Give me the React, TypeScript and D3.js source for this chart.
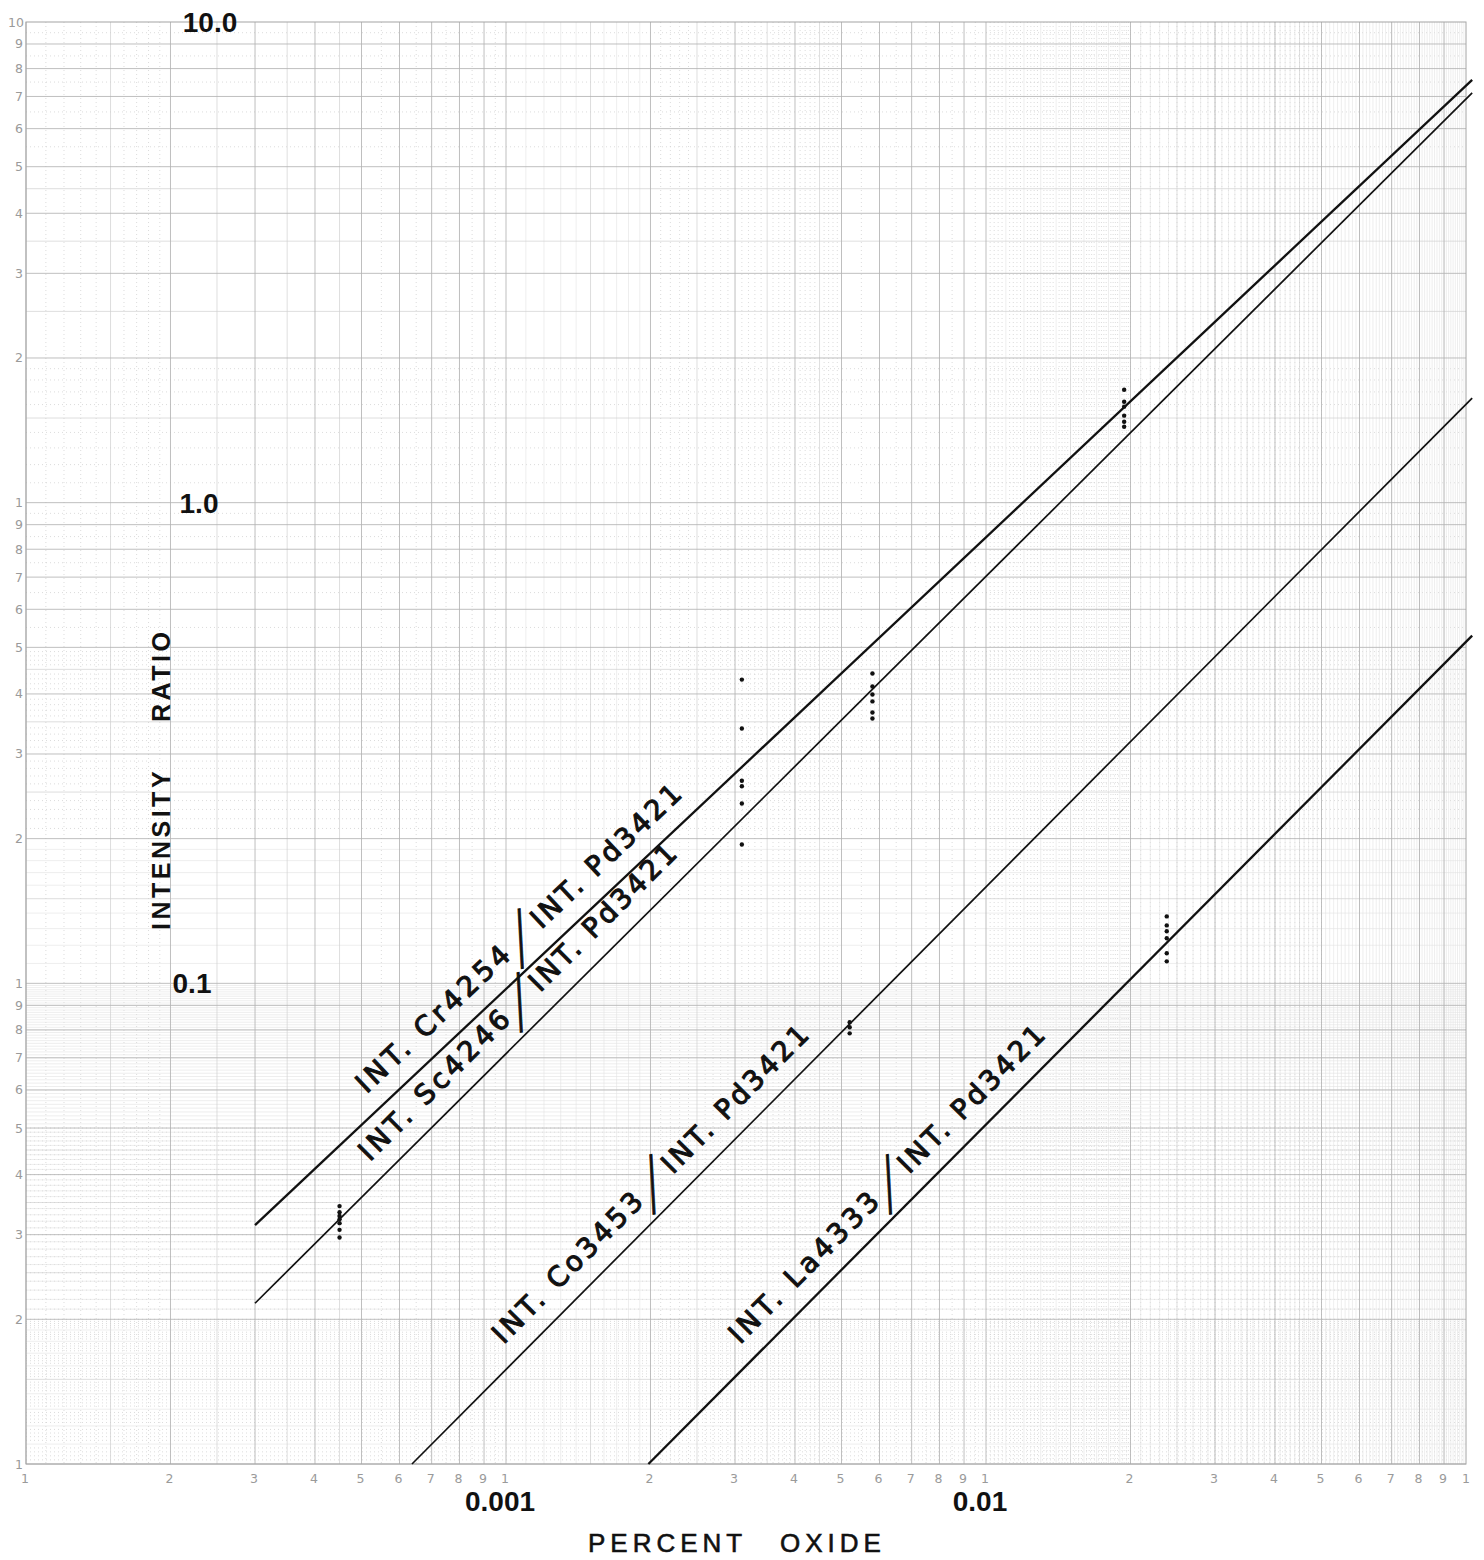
import React from "react";
import * as d3 from "d3";

// ---- data -------------------------------------------------------------
// Calibration lines (percent oxide -> intensity ratio), as drawn end to end.
const lineNames = ["Cr4254", "Sc4246", "Co3453", "La4333"];
const lineStartOxide = [0.0003, 0.0003, 0.000637, 0.00198];
const lineStartRatio = [0.0314, 0.0216, 0.01, 0.01];
const lineEndOxide = [0.103, 0.103, 0.103, 0.103];
const lineEndRatio = [7.58, 7.12, 1.65, 0.529];

// Measured points: one oxide level per group, several exposures each.
const pointOxide = [0.00045, 0.0031, 0.0052, 0.0058, 0.0194, 0.0238];
const ratiosAt00045 = [0.0344, 0.0334, 0.0328, 0.0323, 0.0317, 0.0307, 0.0296];
const ratiosAt0031 = [0.4285, 0.339, 0.264, 0.257, 0.2366, 0.1945];
const ratiosAt0052 = [0.083, 0.081, 0.0787];
const ratiosAt0058 = [0.441, 0.4145, 0.399, 0.386, 0.366, 0.3556];
const ratiosAt0194 = [1.718, 1.622, 1.584, 1.517, 1.473, 1.439];
const ratiosAt0238 = [0.1378, 0.132, 0.1283, 0.1241, 0.1155, 0.1111];
const pointRatios = [ratiosAt00045, ratiosAt0031, ratiosAt0052, ratiosAt0058, ratiosAt0194, ratiosAt0238];

// Where each line's lettering begins (percent oxide along the line).
const labelStartOxide = [0.000545, 0.000555, 0.001054, 0.003276];

// Axis wording
const yDecadeLabels = ["10.0", "1.0", "0.1"];
const yDecadeValues = [10, 1, 0.1];
const xDecadeLabels = ["0.001", "0.01"];
const xDecadeValues = [0.001, 0.01];
const cycleDigits = ["1", "2", "3", "4", "5", "6", "7", "8", "9"];

// ---- layout -----------------------------------------------------------
const W = 1484;
const H = 1560;
const x = d3.scaleLog().domain([1e-4, 0.1]).range([26, 1466]);
const y = d3.scaleLog().domain([0.01, 10]).range([1464, 22]);

type Density = "sparse" | "medium" | "dense";
const steps = (a: number, b: number, step: number) =>
  d3.range(Math.round(a / step), Math.round(b / step) + 1).map((i) => +(i * step).toFixed(4));

const isMult = (v: number, s: number) => Math.abs(v / s - Math.round(v / s)) < 1e-6;

function mantissas(d: Density) {
  const major = steps(1, 9, 1);
  const mid = [1.5, 2.5, 3.5, 4.5];
  let minor: number[] = [];
  let dotted: number[] = [];
  if (d === "sparse") {
    dotted = steps(1.1, 1.9, 0.1).filter((v) => !isMult(v, 0.5)).concat([5.5, 6.5, 7.5, 8.5, 9.5]);
  } else if (d === "medium") {
    minor = steps(1.1, 1.9, 0.1).filter((v) => !isMult(v, 0.5));
    dotted = steps(2.1, 4.9, 0.1).filter((v) => !isMult(v, 0.5)).concat([5.5, 6.5, 7.5, 8.5, 9.5]);
  } else {
    minor = steps(1.1, 9.9, 0.1).filter((v) => !isMult(v, 0.5) || v > 5);
    dotted = steps(1.02, 1.98, 0.02)
      .filter((v) => !isMult(v, 0.1))
      .concat(steps(2.05, 4.95, 0.1));
  }
  return { major, mid, minor, dotted };
}

const gridStyles: Record<string, { stroke: string; width: number; dash?: string }> = {
  dotted: { stroke: "#cdcdcd", width: 0.7, dash: "1 3" },
  minor: { stroke: "#e3e3e3", width: 0.6 },
  mid: { stroke: "#d0d0d0", width: 0.7 },
  major: { stroke: "#b4b4b4", width: 0.85 },
};
const gridOrder = ["dotted", "minor", "mid", "major"];

const xCycles: { base: number; density: Density }[] = [
  { base: 1e-4, density: "sparse" },
  { base: 1e-3, density: "medium" },
  { base: 1e-2, density: "dense" },
];
const yCycles: { base: number; density: Density }[] = [
  { base: 1e-2, density: "dense" },
  { base: 1e-1, density: "medium" },
  { base: 1, density: "sparse" },
];

function Grid() {
  const [x0, x1] = x.range();
  const [y0, y1] = y.range();
  const out: React.ReactNode[] = [];
  gridOrder.forEach((level) => {
    const st = gridStyles[level];
    xCycles.forEach((c, ci) => {
      const m = (mantissas(c.density) as any)[level] as number[];
      m.forEach((v) => {
        const px = x(v * c.base);
        out.push(
          <line key={`vx-${level}-${ci}-${v}`} x1={px} x2={px} y1={y1} y2={y0}
            stroke={st.stroke} strokeWidth={st.width} strokeDasharray={st.dash} />
        );
      });
    });
    yCycles.forEach((c, ci) => {
      const m = (mantissas(c.density) as any)[level] as number[];
      m.forEach((v) => {
        const py = y(v * c.base);
        out.push(
          <line key={`hy-${level}-${ci}-${v}`} x1={x0} x2={x1} y1={py} y2={py}
            stroke={st.stroke} strokeWidth={st.width} strokeDasharray={st.dash} />
        );
      });
    });
  });
  return (
    <g>
      {out}
      <rect x={x0} y={y1} width={x1 - x0} height={y0 - y1} fill="none" stroke="#a4a4a4" strokeWidth={1} />
    </g>
  );
}

function CycleLabels() {
  const gray = "#9a9a9a";
  const font = "DejaVu Sans";
  const nodes: React.ReactNode[] = [];
  yCycles.forEach((c, ci) => {
    cycleDigits.forEach((t, i) => {
      const v = (i + 1) * c.base;
      nodes.push(
        <text key={`yl-${ci}-${i}`} x={23} y={y(v) + 4.5} textAnchor="end" fontSize={12.5} fill={gray} fontFamily={font}>
          {t}
        </text>
      );
    });
  });
  nodes.push(
    <text key="yl-top" x={24} y={y(10) + 4.5} textAnchor="end" fontSize={12.5} fill={gray} fontFamily={font}>
      10
    </text>
  );
  xCycles.forEach((c, ci) => {
    cycleDigits.forEach((t, i) => {
      const v = (i + 1) * c.base;
      nodes.push(
        <text key={`xl-${ci}-${i}`} x={x(v) - 1} y={1483} textAnchor="middle" fontSize={12.5} fill={gray} fontFamily={font}>
          {t}
        </text>
      );
    });
  });
  nodes.push(
    <text key="xl-end" x={x(0.1)} y={1483} textAnchor="middle" fontSize={12.5} fill={gray} fontFamily={font}>
      1
    </text>
  );
  return <g>{nodes}</g>;
}

function CalibrationLines() {
  return (
    <g>
      {lineNames.map((name, i) => {
        const X0 = x(lineStartOxide[i]);
        const Y0 = y(lineStartRatio[i]);
        const X1 = x(lineEndOxide[i]);
        const Y1 = y(lineEndRatio[i]);
        const ang = (Math.atan2(Y1 - Y0, X1 - X0) * 180) / Math.PI;
        const sx = x(labelStartOxide[i]);
        const sy = Y0 + ((sx - X0) / (X1 - X0)) * (Y1 - Y0);
        const p1 = 200;
        const gap = 40;
        const p2 = 195;
        const off = 19;
        const font = "DejaVu Sans";
        return (
          <g key={name}>
            <line x1={X0} y1={Y0} x2={X1} y2={Y1} stroke="#111" strokeWidth={i === 0 || i === 3 ? 2.3 : 1.7} />
            <g transform={`translate(${sx},${sy}) rotate(${ang})`} fontFamily={font} fontSize={27.5}
              fill="#111" stroke="#111" strokeWidth={1.1}>
              <text x={0} y={-off} textLength={p1} lengthAdjust="spacing">
                {`INT. ${name}`}
              </text>
              <g transform={`translate(${p1 + gap / 2},${-off - 9}) rotate(${-10 - ang}) scale(0.9,2.3)`}>
                <text x={0} y={0} fontSize={31} strokeWidth={0.8} textAnchor="middle" dominantBaseline="central">
                  /
                </text>
              </g>
              <text x={p1 + gap} y={-off} textLength={p2} lengthAdjust="spacing">
                INT. Pd3421
              </text>
            </g>
          </g>
        );
      })}
    </g>
  );
}

function Points() {
  return (
    <g fill="#111">
      {pointOxide.map((ox, gi) =>
        pointRatios[gi].map((r, j) => <circle key={`p-${gi}-${j}`} cx={x(ox)} cy={y(r)} r={2.2} />)
      )}
    </g>
  );
}

function AxisTitles() {
  const sans = "Liberation Sans";
  return (
    <g fill="#111">
      {yDecadeLabels.map((t, i) => (
        <text key={t} x={[210, 199, 192][i]} y={y(yDecadeValues[i]) + 10} textAnchor="middle"
          fontFamily={sans} fontWeight="bold" fontSize={28}>
          {t}
        </text>
      ))}
      {xDecadeLabels.map((t, i) => (
        <text key={t} x={x(xDecadeValues[i]) - 6} y={1511} textAnchor="middle"
          fontFamily={sans} fontWeight="bold" fontSize={28}>
          {t}
        </text>
      ))}
      <text y={1552} fontFamily={sans} fontSize={26} letterSpacing={5} stroke="#111" strokeWidth={0.6}>
        <tspan x={588}>PERCENT</tspan>
        <tspan x={780}>OXIDE</tspan>
      </text>
      <g transform="translate(170,0) rotate(-90)">
        <text fontFamily={sans} fontWeight="bold" fontSize={25} letterSpacing={3.5}>
          <tspan x={-930} y={0}>INTENSITY</tspan>
          <tspan x={-722} y={0}>RATIO</tspan>
        </text>
      </g>
    </g>
  );
}

export default function App() {
  return (
    <svg width={W} height={H} viewBox={`0 0 ${W} ${H}`}
      style={{ position: "absolute", left: 0, top: 0, background: "#fff" }}>
      <rect width={W} height={H} fill="#fff" />
      <Grid />
      <CycleLabels />
      <AxisTitles />
      <CalibrationLines />
      <Points />
    </svg>
  );
}
